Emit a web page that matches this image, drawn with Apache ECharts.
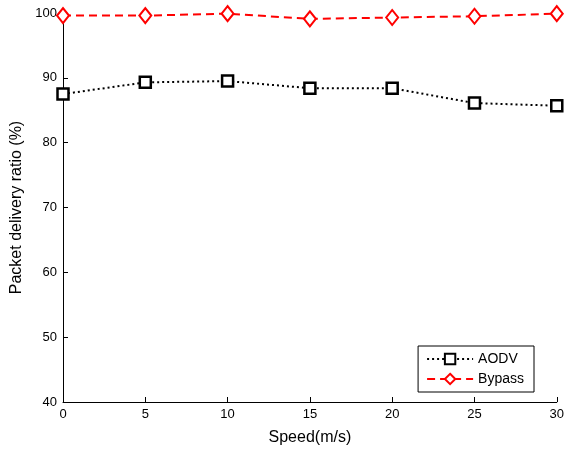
<!DOCTYPE html>
<html><head><meta charset="utf-8">
<script src="https://cdn.jsdelivr.net/npm/echarts@6/dist/echarts.min.js"></script>
<style>html,body{margin:0;padding:0;background:#fff}#c{width:567px;height:451px}</style>
</head><body><div id="c"></div>
<script>
const speeds = [0, 5, 10, 15, 20, 25, 30];
const aodv = [87.5, 89.3, 89.5, 88.4, 88.4, 86.1, 85.7];
const bypass = [99.6, 99.6, 99.9, 99.1, 99.3, 99.5, 99.9];
const seriesNames = ['AODV', 'Bypass'];
const font = 'Liberation Sans, Arial, sans-serif';
const chart = echarts.init(document.getElementById('c'));
chart.setOption({
  animation: false,
  backgroundColor: '#fff',
  grid: {left: 63, right: 9, top: 13, bottom: 48},
  legend: {
    right: 33, top: 346, orient: 'vertical', itemGap: 6, itemWidth: 46, itemHeight: 13,
    backgroundColor: '#fff', borderColor: '#000', borderWidth: 1, padding: [6, 10, 6, 8],
    textStyle: {fontFamily: font, fontSize: 14, color: '#000'},
    data: seriesNames
  },
  xAxis: {
    type: 'value', min: 0, max: 30, interval: 5,
    axisLine: {lineStyle: {color: '#000', width: 1}},
    axisTick: {inside: true, length: 5, lineStyle: {color: '#000'}},
    axisLabel: {fontFamily: font, fontSize: 13, color: '#000', margin: 6},
    splitLine: {show: false},
    name: 'Speed(m/s)', nameLocation: 'middle', nameGap: 28,
    nameTextStyle: {fontFamily: font, fontSize: 16, color: '#000'}
  },
  yAxis: {
    type: 'value', min: 40, max: 100, interval: 10,
    axisLine: {lineStyle: {color: '#000', width: 1}},
    axisTick: {inside: true, length: 5, lineStyle: {color: '#000'}},
    axisLabel: {fontFamily: font, fontSize: 13, color: '#000', margin: 6},
    splitLine: {show: false},
    name: 'Packet delivery ratio (%)', nameLocation: 'middle', nameGap: 36,
    nameTextStyle: {fontFamily: font, fontSize: 16, color: '#000'}
  },
  series: [
    {
      name: 'AODV', type: 'line', data: speeds.map((s, i) => [s, aodv[i]]),
      symbol: 'rect', symbolSize: 11,
      lineStyle: {color: '#000', width: 2, type: [2, 3]},
      itemStyle: {color: '#fff', borderColor: '#000', borderWidth: 2.5},
      z: 3
    },
    {
      name: 'Bypass', type: 'line', data: speeds.map((s, i) => [s, bypass[i]]),
      symbol: 'diamond', symbolSize: [12, 15],
      lineStyle: {color: '#ff0000', width: 2, type: [8, 5]},
      itemStyle: {color: '#fff', borderColor: '#ff0000', borderWidth: 2},
      z: 4
    }
  ]
});
</script></body></html>
